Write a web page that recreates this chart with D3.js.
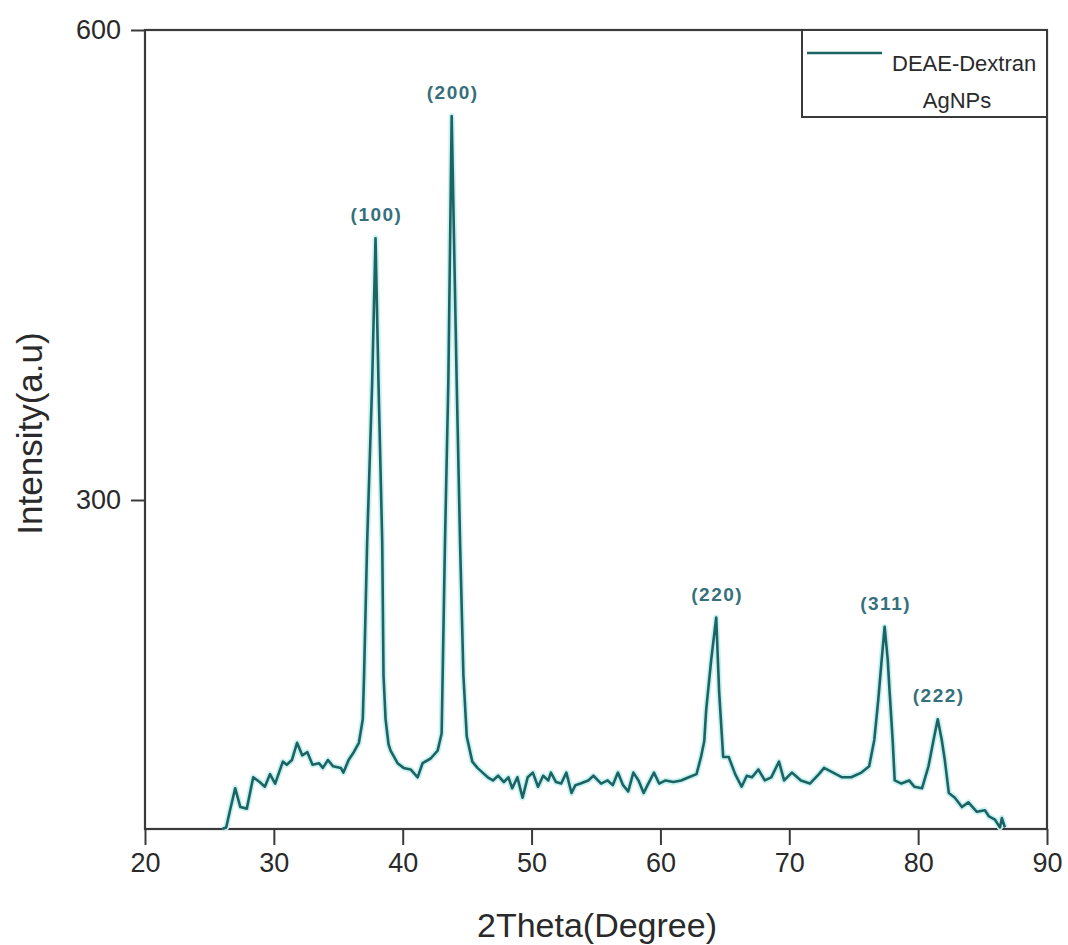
<!DOCTYPE html>
<html>
<head>
<meta charset="utf-8">
<script src="https://cdn.jsdelivr.net/npm/d3@7"></script>
<style>
  body { margin: 0; background: #fff; }
  text { font-family: "Liberation Sans", Arial, sans-serif; }
</style>
</head>
<body>
<div id="xrd-chart"></div>
<script>
// XRD pattern
const twoTheta = [26.0, 26.3, 26.6, 27.0, 27.4, 27.9, 28.4, 28.9, 29.3, 29.7, 30.1, 30.7, 31.0, 31.4, 31.8, 32.2, 32.6, 33.0, 33.5, 33.8,
  34.2, 34.6, 35.2, 35.4, 35.8, 36.2, 36.6, 36.9, 37.0, 37.24, 37.63, 37.89, 38.12, 38.41, 38.51, 38.67, 38.9, 39.06, 39.6, 40.07,
  40.61, 41.16, 41.54, 42.17, 42.71, 43.02, 43.1, 43.28, 43.54, 43.8, 44.19, 44.45, 44.71, 44.97, 45.4, 45.8, 46.2, 46.6, 47.0, 47.4,
  47.85, 48.2, 48.5, 48.9, 49.3, 49.7, 50.1, 50.5, 50.9, 51.3, 51.5, 51.9, 52.3, 52.7, 53.1, 53.4, 53.8, 54.4, 54.8, 55.4,
  55.9, 56.3, 56.7, 57.1, 57.5, 57.9, 58.3, 58.7, 59.0, 59.5, 59.9, 60.4, 61.0, 61.6, 62.2, 62.8, 63.15, 63.4, 63.55, 63.94,
  64.33, 64.56, 64.87, 65.3, 65.8, 66.3, 66.7, 67.1, 67.6, 68.1, 68.6, 69.2, 69.6, 70.2, 70.9, 71.6, 72.3, 72.7, 73.4, 74.1,
  74.8, 75.6, 76.2, 76.6, 76.9, 77.17, 77.4, 77.64, 77.79, 78.02, 78.18, 78.7, 79.3, 79.7, 80.3, 80.8, 81.2, 81.52, 81.83, 82.07,
  82.38, 82.85, 83.4, 83.9, 84.56, 85.18, 85.5, 85.96, 86.35, 86.5, 86.73];
const intensity = [90, 91, 102, 116, 104, 103, 123, 120, 117, 125, 119, 133, 131, 134, 145, 137, 139, 131, 132, 129,
  134, 130, 129, 126, 134, 139, 145, 160, 188, 273, 375, 467, 375, 273, 188, 160, 144, 140, 132, 129,
  128, 123, 132, 135, 140, 151, 188, 273, 375, 545, 375, 273, 188, 149, 133, 129, 126, 123, 121, 124,
  120, 123, 116, 123, 110, 123, 126, 117, 124, 121, 126, 120, 119, 126, 113, 118, 119, 121, 124, 119,
  121, 118, 126, 118, 114, 126, 121, 113, 118, 126, 119, 121, 120, 121, 123, 125, 136, 146, 166, 198,
  225, 177, 136, 136, 125, 117, 124, 123, 128, 121, 123, 133, 121, 126, 121, 119, 125, 129, 126, 123,
  123, 126, 130, 147, 172, 198, 219, 198, 177, 147, 121, 119, 121, 117, 116, 130, 147, 160, 147, 134,
  113, 110, 104, 107, 101, 102, 98, 96, 91, 97, 91];

// peak annotations
const peakLabels = ["(100)", "(200)", "(220)", "(311)", "(222)"];
const peakX = [37.89, 43.8, 64.33, 77.4, 81.52];
const peakY = [467, 545, 225, 219, 160];

const xTicks = [20, 30, 40, 50, 60, 70, 80, 90];
const yTicks = [300, 600];
const seriesName = ["DEAE-Dextran", "AgNPs"];

const data = twoTheta.map((t, i) => ({ t: t, v: intensity[i] }));

const width = 1068, height = 945;
const margin = { top: 30, right: 21, bottom: 116, left: 145 };
const lineColor = "#1d6363";

const svg = d3.select("#xrd-chart").append("svg")
  .attr("width", width)
  .attr("height", height);

const x = d3.scaleLinear().domain([20, 90]).range([margin.left, width - margin.right]);
const y = d3.scaleLinear().domain([90, 600]).range([height - margin.bottom, margin.top]);

// axes
const xAxis = svg.append("g")
  .attr("transform", `translate(0,${height - margin.bottom})`)
  .call(d3.axisBottom(x).tickValues(xTicks).tickSize(16).tickPadding(8));
const yAxis = svg.append("g")
  .attr("transform", `translate(${margin.left},0)`)
  .call(d3.axisLeft(y).tickValues(yTicks).tickSize(14).tickPadding(10));

[xAxis, yAxis].forEach(g => {
  g.select(".domain").remove();
  g.selectAll("line").attr("stroke", "#3a3a3a").attr("stroke-width", 2);
  g.selectAll("text").attr("fill", "#2a2a2a").style("font-size", "27px");
});

// frame
svg.append("rect")
  .attr("x", x(20)).attr("y", y(600))
  .attr("width", x(90) - x(20)).attr("height", y(90) - y(600))
  .attr("fill", "none")
  .attr("stroke", "#3a3a3a")
  .attr("stroke-width", 2.2);

// the pattern
const line = d3.line().x(d => x(d.t)).y(d => y(d.v));
svg.append("path")
  .datum(data)
  .attr("fill", "none")
  .attr("stroke", "#c8f1f1")
  .attr("stroke-width", 6)
  .attr("stroke-linejoin", "round")
  .attr("d", line);
svg.append("path")
  .datum(data)
  .attr("fill", "none")
  .attr("stroke", lineColor)
  .attr("stroke-width", 2.6)
  .attr("stroke-linejoin", "round")
  .attr("d", line);

// peak labels
svg.selectAll(".peak")
  .data(peakLabels)
  .enter().append("text")
  .attr("class", "peak")
  .attr("x", (d, i) => x(peakX[i]) + 1)
  .attr("y", (d, i) => y(peakY[i]) - 17)
  .attr("text-anchor", "middle")
  .attr("fill", "#35707c")
  .style("font-size", "19px")
  .style("font-weight", "bold")
  .style("letter-spacing", "1.5px")
  .text(d => d);

// axis titles
svg.append("text")
  .attr("x", (x(20) + x(90)) / 2 + 1)
  .attr("y", 937)
  .attr("text-anchor", "middle")
  .attr("fill", "#2a2a2a")
  .style("font-size", "34px")
  .text("2Theta(Degree)");

svg.append("text")
  .attr("transform", `translate(42,${(y(90) + y(600)) / 2 + 4}) rotate(-90)`)
  .attr("text-anchor", "middle")
  .attr("fill", "#2a2a2a")
  .style("font-size", "35px")
  .text("Intensity(a.u)");

// legend box
const legend = svg.append("g").attr("transform", `translate(802,${margin.top})`);
legend.append("rect")
  .attr("width", x(90) - 802).attr("height", 87)
  .attr("fill", "#fff")
  .attr("stroke", "#3a3a3a")
  .attr("stroke-width", 2);
legend.append("line")
  .attr("x1", 5).attr("x2", 80)
  .attr("y1", 23).attr("y2", 23)
  .attr("stroke", lineColor)
  .attr("stroke-width", 2.6);
legend.append("text")
  .attr("x", 90).attr("y", 41)
  .attr("fill", "#2a2a2a")
  .style("font-size", "22px")
  .text(seriesName[0]);
legend.append("text")
  .attr("x", 155).attr("y", 78)
  .attr("text-anchor", "middle")
  .attr("fill", "#2a2a2a")
  .style("font-size", "22px")
  .text(seriesName[1]);
</script>
</body>
</html>
